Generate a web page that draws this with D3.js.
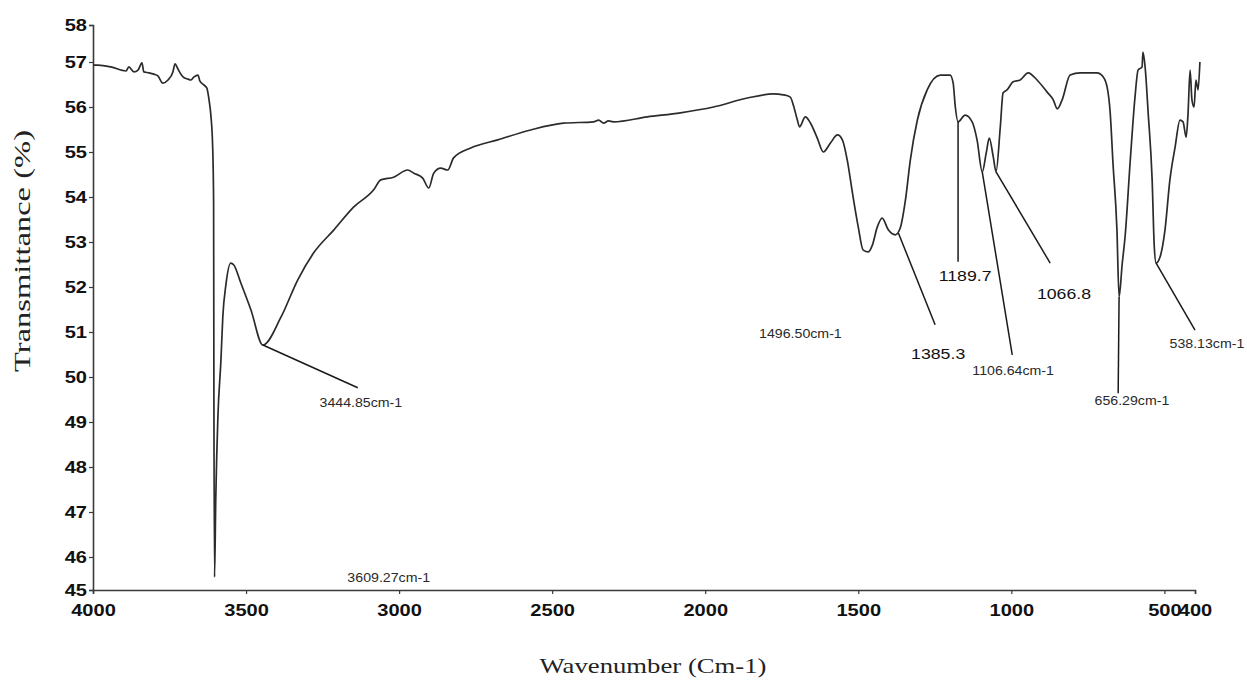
<!DOCTYPE html>
<html>
<head>
<meta charset="utf-8">
<script src="https://cdn.jsdelivr.net/npm/d3@7/dist/d3.min.js"></script>
<style>
  html, body { margin: 0; padding: 0; background: #fff; }
  svg { display: block; }
</style>
</head>
<body>
<div id="chart"></div>
<script>
// FTIR spectrum
var wavenumber = [
	4000, 3984, 3941, 3892, 3883, 3866, 3853, 3840, 3834, 3817, 3801, 3788, 3772, 3755, 3739, 3732,
	3723, 3706, 3690, 3680, 3670, 3657, 3651, 3638, 3628, 3621, 3615, 3609, 3606, 3605, 3603,
	3599, 3592, 3582, 3576, 3566, 3550, 3540, 3517, 3484, 3445,
	3386, 3331, 3279, 3213, 3148, 3083, 3060, 3018, 2972, 2952, 2923, 2903, 2887, 2864, 2841, 2822,
	2766, 2678, 2570, 2463, 2365, 2348, 2332, 2316, 2300, 2189, 2081, 1973, 1862, 1777, 1745, 1722,
	1712, 1699, 1692, 1673, 1656, 1634, 1614, 1591, 1568, 1552, 1536, 1519, 1500, 1484, 1467, 1454,
	1438, 1422, 1402, 1379, 1363, 1346, 1330, 1307, 1275, 1232, 1200, 1190, 1183, 1174, 1151, 1128,
	1112, 1095, 1082, 1072, 1059, 1050, 1036, 1027, 1014, 994, 971, 945, 916, 883, 863, 850, 834,
	808, 775, 720, 700, 687, 677, 668, 655, 648, 638, 628, 612, 596, 586, 573, 570, 563, 553, 540,
	533, 527, 514, 498, 482, 465, 449, 439, 429, 423, 416, 410, 403, 397, 390, 384
];
var transmittance = [
	56.93, 56.93, 56.89, 56.80, 56.89, 56.78, 56.82, 56.98, 56.78, 56.76, 56.73, 56.69, 56.53, 56.60, 56.78, 56.96,
	56.85, 56.67, 56.62, 56.60, 56.67, 56.71, 56.58, 56.49, 56.42, 56.16, 55.82, 55.10, 53.90, 49.50, 45.39,
	47.27, 49.11, 50.38, 51.33, 52.04, 52.53, 52.49, 52.09, 51.49, 50.71,
	51.33, 52.16, 52.76, 53.27, 53.78, 54.16, 54.38, 54.44, 54.60, 54.53, 54.42, 54.20, 54.53, 54.64, 54.60, 54.87,
	55.09, 55.27, 55.49, 55.64, 55.67, 55.71, 55.64, 55.69, 55.67, 55.78, 55.87, 56.00, 56.20, 56.29, 56.27, 56.22,
	56.04, 55.71, 55.56, 55.78, 55.64, 55.31, 55.00, 55.20, 55.38, 55.27, 54.82, 54.09, 53.33, 52.82, 52.78, 52.93,
	53.33, 53.53, 53.27, 53.16, 53.31, 53.93, 54.82, 55.71, 56.38, 56.71, 56.71, 56.53, 56.00, 55.67, 55.82, 55.67,
	55.27, 54.56, 54.98, 55.31, 54.89, 54.56, 55.56, 56.31, 56.38, 56.56, 56.60, 56.76, 56.60, 56.33, 56.16, 55.96, 56.16,
	56.71, 56.76, 56.76, 56.67, 56.44, 55.87, 54.76, 53.27, 51.78, 52.50, 53.15, 54.76, 56.22, 56.82, 56.89, 57.27, 56.89, 55.87, 54.38,
	52.89, 52.53, 52.67, 53.27, 54.38, 55.11, 55.71, 55.67, 55.33, 55.82, 56.82, 56.16, 56.00, 56.60, 56.38, 57.00
];

var xTicks = [4000, 3500, 3000, 2500, 2000, 1500, 1000, 500, 400];
var yTicks = [45, 46, 47, 48, 49, 50, 51, 52, 53, 54, 55, 56, 57, 58];

// peak labels: where the leader starts on the curve, where it ends, where the text sits
var annotations = [
	{text: "3444.85cm-1", big: false, peak: [3445, 50.71], end: [3135, 49.76], at: [3125, 49.33]},
	{text: "3609.27cm-1", big: false, peak: null, end: null, at: [3034, 45.24]},
	{text: "1496.50cm-1", big: false, peak: null, end: null, at: [1689, 50.87]},
	{text: "1385.3", big: true, peak: [1369, 53.20], end: [1249, 51.16], at: [1239, 50.40]},
	{text: "1189.7", big: true, peak: [1174, 55.67], end: [1174, 52.56], at: [1151, 52.13]},
	{text: "1106.64cm-1", big: false, peak: [1095, 54.56], end: [997, 50.49], at: [994, 50.04]},
	{text: "1066.8", big: true, peak: [1050, 54.56], end: [873, 52.53], at: [828, 51.73]},
	{text: "656.29cm-1", big: false, peak: [648, 51.78], end: [651, 49.64], at: [606, 49.38]},
	{text: "538.13cm-1", big: false, peak: [527, 52.53], end: [400, 51.04], at: [361, 50.64]}
];

var width = 1247, height = 681;

var svg = d3.select("#chart").append("svg")
	.attr("width", width)
	.attr("height", height);

var x = d3.scaleLinear().domain([4000, 400]).range([93, 1195]);
// the printed axis is not evenly spaced at its two ends
var y = d3.scaleLinear().domain([45, 46, 57, 58]).range([590, 557, 62, 25]);

var tickFont = "'Liberation Sans', Arial, sans-serif";

/*
axes
*/
var xAxis = svg.append("g")
	.attr("transform", "translate(0," + y(45) + ")")
	.call(d3.axisBottom(x).tickValues(xTicks).tickSize(4).tickPadding(6).tickFormat(d3.format("d")));

var yAxis = svg.append("g")
	.attr("transform", "translate(" + x(4000) + ",0)")
	.call(d3.axisLeft(y).tickValues(yTicks).tickSize(4).tickPadding(2).tickFormat(d3.format("d")));

[xAxis, yAxis].forEach(function(g) {
	g.select(".domain").attr("stroke", "#3a3a3a").attr("stroke-width", 1.6);
	g.selectAll(".tick line").attr("stroke", "#3a3a3a").attr("stroke-width", 1.2);
	g.selectAll(".tick text")
		.attr("fill", "#111")
		.style("font-family", tickFont)
		.style("font-weight", "bold")
		.style("font-size", "17px")
		.classed("stretch", true);
});
xAxis.selectAll(".tick text").attr("dy", "0.95em");

/*
spectrum
*/
var points = wavenumber.map(function(w, i) { return [w, transmittance[i]]; });

var line = d3.line()
	.x(function(d) { return x(d[0]); })
	.y(function(d) { return y(d[1]); })
	.curve(d3.curveMonotoneX);

svg.append("path")
	.datum(points)
	.attr("d", line)
	.attr("fill", "none")
	.attr("stroke", "#2b2b2b")
	.attr("stroke-width", 1.7)
	.attr("stroke-linejoin", "round");

/*
peak labels
*/
var ann = svg.append("g").selectAll("g")
	.data(annotations).enter().append("g");

ann.filter(function(d) { return d.peak; })
	.append("line")
	.attr("x1", function(d) { return x(d.peak[0]); })
	.attr("y1", function(d) { return y(d.peak[1]); })
	.attr("x2", function(d) { return x(d.end[0]); })
	.attr("y2", function(d) { return y(d.end[1]); })
	.attr("stroke", "#1a1a1a")
	.attr("stroke-width", 1.5);

ann.append("text")
	.attr("x", function(d) { return x(d.at[0]); })
	.attr("y", function(d) { return y(d.at[1]); })
	.attr("text-anchor", "middle")
	.attr("fill", function(d) { return d.big ? "#111" : "#2a2a2a"; })
	.style("font-family", tickFont)
	.style("font-size", function(d) { return d.big ? "15px" : "12px"; })
	.classed("stretch", true)
	.text(function(d) { return d.text; });

/*
axis titles
*/
svg.append("text")
	.attr("x", 653)
	.attr("y", 673)
	.attr("text-anchor", "middle")
	.attr("fill", "#222")
	.style("font-family", "'Liberation Serif', 'Times New Roman', serif")
	.style("font-size", "21px")
	.attr("textLength", 227)
	.attr("lengthAdjust", "spacingAndGlyphs")
	.text("Wavenumber (Cm-1)");

svg.append("text")
	.attr("transform", "translate(30,251) rotate(-90)")
	.attr("text-anchor", "middle")
	.attr("fill", "#222")
	.style("font-family", "'Liberation Serif', 'Times New Roman', serif")
	.style("font-size", "23px")
	.attr("textLength", 242)
	.attr("lengthAdjust", "spacingAndGlyphs")
	.text("Transmittance (%)");

// the scan is a little wider than tall, so widen the sans text the same way
svg.selectAll("text.stretch").each(function() {
	var w = this.getComputedTextLength();
	d3.select(this)
		.attr("textLength", w * 1.18)
		.attr("lengthAdjust", "spacingAndGlyphs");
});
</script>
</body>
</html>
